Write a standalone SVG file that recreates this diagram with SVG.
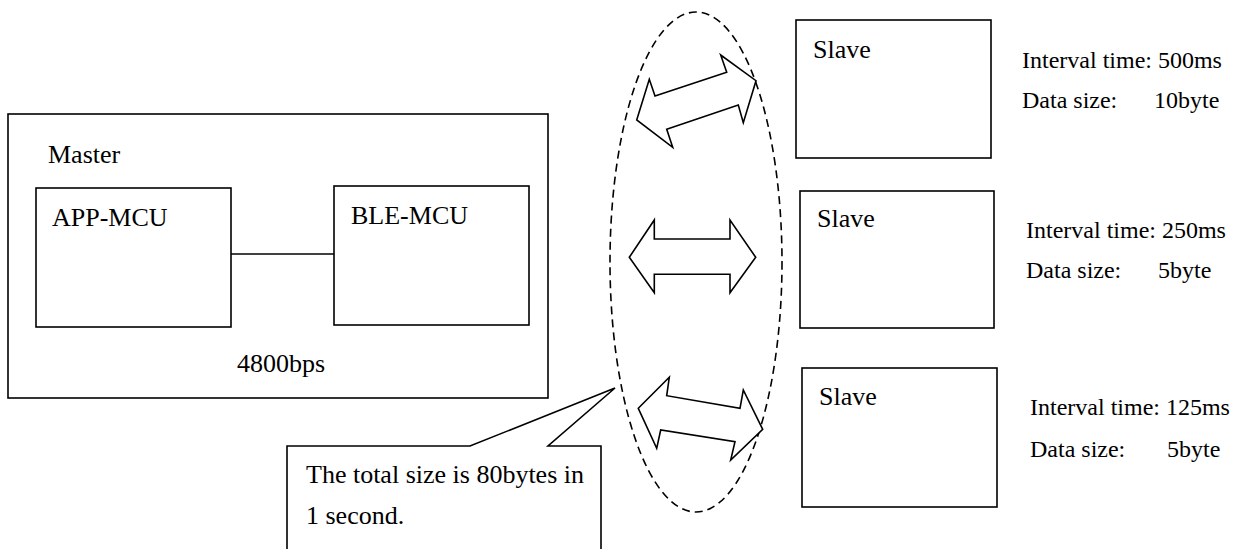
<svg xmlns="http://www.w3.org/2000/svg" width="1242" height="549" viewBox="0 0 1242 549">
<style>
.box{fill:#fff;stroke:#000;stroke-width:1.6}
.t{font-family:"Liberation Serif","Times New Roman",serif;font-size:26px;fill:#000}
.s{font-family:"Liberation Serif","Times New Roman",serif;font-size:24px;fill:#000}
.arr{fill:#fff;stroke:#000;stroke-width:1.6;stroke-linejoin:miter}
.line{stroke:#000;stroke-width:1.6;fill:none}
</style>
<rect width="1242" height="549" fill="#fff"/>
<g id="master">
<rect class="box" x="8" y="114" width="540" height="284"/>
<text class="t" x="48" y="163">Master</text>
<text class="t" x="237" y="372">4800bps</text>
</g>
<g id="app-mcu">
<rect class="box" x="36" y="188" width="195" height="139"/>
<text class="t" x="52" y="226">APP-MCU</text>
</g>
<g id="ble-mcu">
<rect class="box" x="334" y="186" width="195" height="139"/>
<text class="t" x="351" y="224">BLE-MCU</text>
</g>
<g id="connectors">
<line class="line" x1="231" y1="254" x2="334" y2="254"/>
<ellipse cx="696" cy="262" rx="86" ry="250" fill="none" stroke="#000" stroke-width="1.6" stroke-dasharray="8,5"/>
<polygon class="arr" points="636.7,120 649.3,79.3 655,96 726.7,72.3 720.7,55 756,80.7 743.3,122.7 738.3,105 666.7,129.3 672.7,147.3"/>
<polygon class="arr" points="629.3,257.3 654.3,220 654.3,239 730,239 730,220 755.7,257.3 730,292.7 730,274.3 654.3,274.3 654.3,292.7"/>
<polygon class="arr" points="638.3,408.3 669.3,377.3 666.7,395.7 740,408.3 743.3,390 762.7,429.3 730.7,460 735,441.7 660.7,430 656.7,448.3"/>
</g>
<g id="slave1">
<rect class="box" x="796" y="20" width="195" height="138"/>
<text class="t" x="813" y="58">Slave</text>
<text class="s" x="1022" y="68">Interval time: 500ms</text>
<text class="s" x="1022" y="108">Data size:</text>
<text class="s" x="1154" y="108">10byte</text>
</g>
<g id="slave2">
<rect class="box" x="800" y="191" width="194" height="137"/>
<text class="t" x="817" y="227">Slave</text>
<text class="s" x="1026" y="238">Interval time: 250ms</text>
<text class="s" x="1026" y="278">Data size:</text>
<text class="s" x="1158" y="278">5byte</text>
</g>
<g id="slave3">
<rect class="box" x="802" y="368" width="195" height="139"/>
<text class="t" x="819" y="405">Slave</text>
<text class="s" x="1030" y="415">Interval time: 125ms</text>
<text class="s" x="1030" y="457">Data size:</text>
<text class="s" x="1167" y="457">5byte</text>
</g>
<g id="callout">
<polygon class="box" points="287,560 287,446 470,446 615,388 548,446 601,446 601,560"/>
<text class="t" x="306" y="483">The total size is 80bytes in</text>
<text class="t" x="306" y="524">1 second.</text>
</g>
</svg>
